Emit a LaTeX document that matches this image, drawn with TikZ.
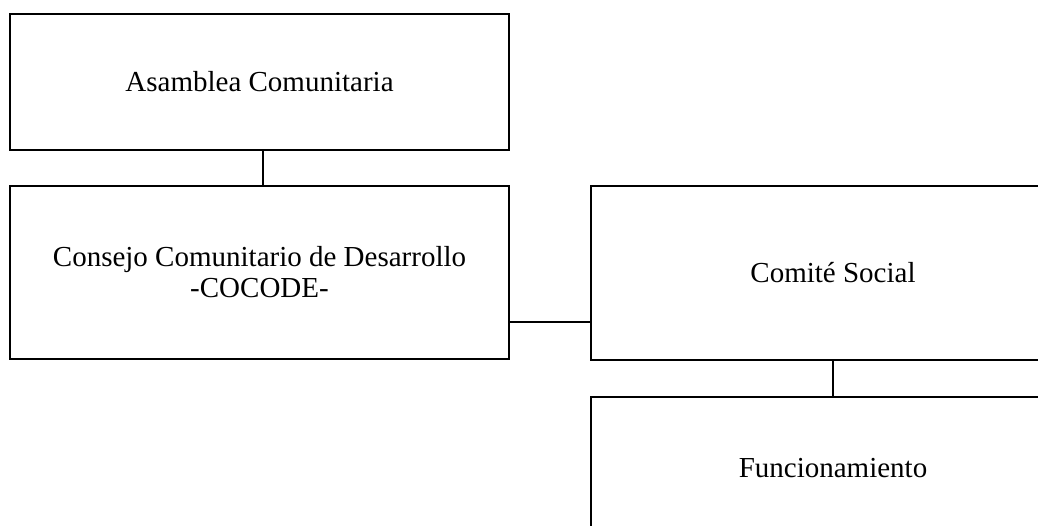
\documentclass[tikz,border=0pt]{standalone}
\usepackage{fontspec}
\setmainfont{Liberation Serif}
\begin{document}
\begin{tikzpicture}[x=1pt,y=-1pt,
  orgbox/.style={draw=black, line width=1.3pt, inner sep=0pt, align=center,
    font=\fontsize{29}{31}\selectfont},
  link/.style={draw=black, line width=1.2pt}]
\useasboundingbox (0,0) rectangle (1038,526);
\clip (0,0) rectangle (1038,526);
\node[orgbox, minimum width=499pt, minimum height=136pt] (asam) at (259.5,82) {Asamblea Comunitaria};
\node[orgbox, minimum width=499pt, minimum height=173pt] (cocode) at (259.5,272.5) {Consejo Comunitario de Desarrollo\\-COCODE-};
\node[orgbox, minimum width=484pt, minimum height=174pt] (social) at (833,273) {Comité Social};
\node[orgbox, minimum width=484pt, minimum height=142pt] (func) at (833,468) {Funcionamiento};
\draw[link] ([xshift=3.5pt]asam.south) -- ([xshift=3.5pt]cocode.north);
\draw[link] ([yshift=-49.5pt]cocode.east) -- ([yshift=-49.5pt]cocode.east -| social.west);
\draw[link] (social.south) -- (func.north);
\end{tikzpicture}
\end{document}
